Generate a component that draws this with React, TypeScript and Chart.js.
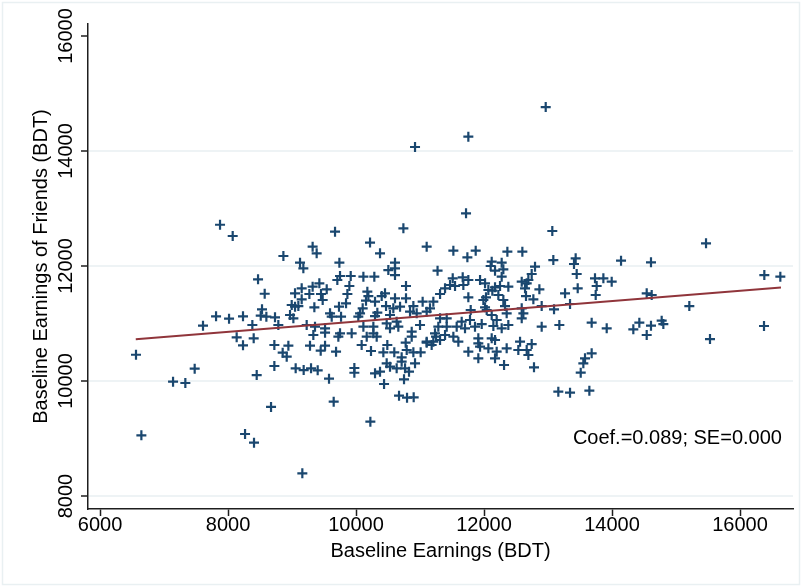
import { useEffect, useRef } from "react";
import { Chart, registerables } from "chart.js";

Chart.register(...registerables);

const xTickValues = [6000, 8000, 10000, 12000, 14000, 16000];
const yTickValues = [8000, 10000, 12000, 14000, 16000];

const earnings = [
  12964, 11755, 10922, 11719,
  7875, 8073, 8469, 8573, 7609, 7813, 8016, 8234, 8380, 8531, 8511, 8599, 8135, 8234, 8401,
  6562, 7479, 7141, 7333, 8448, 6646, 8266, 8406, 8672,
  9651, 10224, 9161, 10672, 10797, 10901, 10438, 10750, 9578, 8724, 9057, 9182, 9297, 9401,
  9974, 9974, 10297, 10375, 10479, 10531, 10635, 10713, 10766, 10828, 10922, 10713, 8724, 8854,
  8943, 8917, 9281, 9448, 9516, 9688, 10088, 10234, 10427, 10489, 10598, 10776, 10792, 10896,
  11010, 11104, 11182, 11250,
  9672, 10740, 10219, 11104, 9322, 9385, 8865, 10375, 9125, 9177, 9740, 10609, 10505, 10609,
  10609, 11274, 9750, 9708, 9917, 10115, 10286, 9047, 9151, 9322, 9427, 9542, 9896, 9865,
  9271, 9453, 9479, 9151, 8995, 9099, 9349, 9047, 9734, 9844, 10177, 10193, 10156, 10297,
  10401, 10453, 10609, 10781, 10781, 11041, 11208, 10583, 10688, 10896, 10469, 10104,
  8734, 8786, 8969, 9021, 9594, 9620, 9766, 10036, 10063, 10297, 10333, 10531, 10635, 10844,
  10948, 11104, 11156, 9229, 9359, 9516, 9333, 9516, 9750, 9724, 9932, 10167, 10271, 10323,
  10115, 10271, 10479, 10531, 10661, 10870, 10870, 11000, 11104, 11208,
  13067, 11521, 11740, 11870, 12365, 12599, 13083, 13432, 13406, 13448, 12120, 12104, 12276,
  12302, 12172, 12276, 12797, 12745, 12693, 11511, 11667, 11755, 11677, 11469, 11391, 11313,
  11547, 11938, 12016, 12172, 12250, 12380, 12589, 12667, 12641, 12865, 12130, 12068, 12031,
  11990, 11755, 12224, 12302, 12656, 12771, 13266, 13464, 13734, 13865, 13760, 13745,
  11792, 12016, 12042, 12328, 12354, 12589, 12615, 12901, 13094, 13344, 11313, 11417, 11651,
  11781, 12120, 12198, 12589, 11286, 11417, 11573, 11703, 11859, 11964, 12146, 12276, 12380,
  12901, 13177, 13682, 13917, 11234, 11391, 11521, 11313, 11599, 11911, 12120, 12172, 12563,
  12745, 11938, 12354,
  11755, 11911, 11911, 12068, 12172, 12198, 12313, 12536, 12667, 12693, 12781, 13161, 13344,
  13646, 13511, 13552, 13578, 13682,
  15469, 14141, 14609, 16380, 16630, 13995, 14542, 14620, 15208, 14333, 14427, 14542, 14609,
  14776, 14802, 15531, 16375,
];

const friendsEarnings = [
  14765, 14249, 14070, 12917,
  12718, 12522, 11769, 11518, 10962, 11125, 11084, 11125, 10974, 11247, 11136, 11118, 10760, 10620, 10742,
  10457, 10214, 9988, 9965, 10104, 9055, 9078, 8927, 9550,
  9640, 9292, 8394, 9745, 9710, 9716, 9948, 10029, 10040, 10261, 10220, 10191, 10220, 10186,
  10226, 10144, 10133, 10162, 10308, 10249, 10220, 10336, 10220, 10162, 10308, 10412, 10626, 10493,
  10614, 10423, 10614, 10527, 10614, 10510, 10626, 10522, 10499, 10626, 10499, 10667, 10539, 10499,
  10499, 10667, 10626, 10771,
  12597, 12655, 12407, 12337, 12337, 12221, 12174, 12221, 12058, 11960, 12058, 12058, 11930, 11960,
  11843, 11919, 11826, 11757, 11826, 11814, 11814, 11525, 11612, 11641, 11699, 11595, 11652, 11513,
  11513, 11513, 11409, 11421, 11322, 11304, 11281, 11292, 11292, 11351, 11554, 11478, 11397, 11380,
  11478, 11525, 11438, 11652, 11438, 11380, 11380, 11264, 11292, 11304, 11304, 11264,
  11108, 10974, 11148, 11090, 11177, 11119, 11119, 11119, 11177, 11130, 11188, 11148, 11032, 11206,
  11177, 11206, 11264, 10974, 10945, 10916, 10800, 10840, 10829, 10771, 10829, 10771, 10829, 10771,
  10945, 10945, 11003, 10916, 10945, 10858, 10771, 10974, 10684, 10684,
  12609, 12267, 12151, 12267, 12250, 12250, 12104, 12134, 12035, 11861, 12075, 12000, 12058,
  11942, 11919, 11814, 11989, 11861, 11757, 11786, 11803, 11757, 11670, 11670, 11612, 11513,
  11652, 11757, 11699, 11630, 11652, 11641, 11728, 11699, 11612, 11595, 11571, 11583, 11455,
  11409, 11455, 11496, 11409, 11478, 11421, 11525, 11612, 11786, 11786, 11652, 11496,
  11235, 11281, 11235, 11304, 11177, 11264, 11177, 11304, 11247, 11339, 11090, 11090, 11032,
  11061, 11148, 11061, 11090, 10945, 10945, 10945, 10916, 10945, 10991, 10957, 10916, 10974,
  10945, 10974, 11014, 10916, 10829, 10800, 10771, 10713, 10684, 10742, 10742, 10713, 10684,
  10643, 10597, 10568,
  10510, 10655, 10394, 10568, 10394, 10510, 10278, 10539, 10539, 10452, 10238, 9814, 9797,
  9832, 10145, 10308, 10394, 10481,
  12395, 12093, 12064, 11843, 11814, 11728, 11525, 11496, 11304, 10899, 11014, 10800, 10962,
  11049, 10991, 10730, 10957,
];

const fitEarnings = [6558, 16640];
const fitFriends = [10728, 11625];

const xTitle = "Baseline Earnings (BDT)";
const yTitle = "Baseline Earnings of Friends (BDT)";
const noteText = "Coef.=0.089; SE=0.000";
const notePos = { x: 16655, y: 9000 };

const FONT = '20px "Liberation Sans", Arial, Helvetica, sans-serif';
const NAVY = "#1a476f";
const MAROON = "#90353b";
const GRID = "#eef3f5";
const AXIS = "#1e1e1e";

const textPlugin = {
  id: "stataText",
  beforeDraw(chart: any) {
    const { ctx, width, height } = chart;
    ctx.save();
    ctx.strokeStyle = "#e9f0f2";
    ctx.lineWidth = 1.5;
    ctx.strokeRect(2.5, 2.5, width - 5, height - 5);
    ctx.restore();
  },
  afterDraw(chart: any) {
    const { ctx, chartArea } = chart;
    const xs = chart.scales.x;
    const ys = chart.scales.y;
    ctx.save();
    ctx.fillStyle = "#000";
    ctx.font = FONT;
    ctx.textBaseline = "alphabetic";
    ctx.textAlign = "center";
    xTickValues.forEach((v) => {
      ctx.fillText(String(v), xs.getPixelForValue(v), 531);
    });
    ctx.fillText(xTitle, (chartArea.left + chartArea.right) / 2, 557);
    yTickValues.forEach((v) => {
      ctx.save();
      ctx.translate(72, ys.getPixelForValue(v));
      ctx.rotate(-Math.PI / 2);
      ctx.fillText(String(v), 0, 0);
      ctx.restore();
    });
    ctx.save();
    ctx.translate(47, (chartArea.top + chartArea.bottom) / 2);
    ctx.rotate(-Math.PI / 2);
    ctx.fillText(yTitle, 0, 0);
    ctx.restore();
    ctx.textAlign = "right";
    ctx.textBaseline = "middle";
    ctx.fillText(noteText, xs.getPixelForValue(notePos.x), ys.getPixelForValue(notePos.y));
    ctx.restore();
  },
};

export default function App() {
  const ref = useRef<HTMLCanvasElement | null>(null);

  useEffect(() => {
    if (!ref.current) return;
    const points = earnings.map((x, i) => ({ x, y: friendsEarnings[i] }));
    const fit = fitEarnings.map((x, i) => ({ x, y: fitFriends[i] }));
    const chart = new Chart(ref.current, {
      type: "scatter",
      data: {
        datasets: [
          {
            type: "line",
            data: fit,
            borderColor: MAROON,
            borderWidth: 2,
            pointRadius: 0,
            fill: false,
            order: 0,
          } as any,
          {
            type: "scatter",
            data: points,
            pointStyle: "cross",
            pointRadius: 5,
            borderWidth: 2.2,
            borderColor: NAVY,
            backgroundColor: NAVY,
            order: 1,
          } as any,
        ],
      },
      options: {
        animation: false,
        responsive: false,
        devicePixelRatio: 1,
        layout: { padding: { left: 81, right: 9, top: 24, bottom: 71 } },
        plugins: { legend: { display: false }, tooltip: { enabled: false } },
        scales: {
          x: {
            type: "linear",
            min: 5812,
            max: 16828,
            afterBuildTicks: (s: any) => {
              s.ticks = xTickValues.map((v) => ({ value: v }));
            },
            ticks: { display: false },
            grid: {
              drawOnChartArea: false,
              drawTicks: true,
              tickLength: 7,
              tickColor: AXIS,
              tickWidth: 1.5,
            },
            border: { display: true, color: AXIS, width: 1.5 },
          },
          y: {
            type: "linear",
            min: 7774,
            max: 16209,
            afterBuildTicks: (s: any) => {
              s.ticks = yTickValues.map((v) => ({ value: v }));
            },
            ticks: { display: false },
            grid: {
              color: (c: any) => (c.tick && c.tick.value === 16000 ? "rgba(0,0,0,0)" : GRID),
              lineWidth: 2,
              drawTicks: true,
              tickLength: 7,
              tickColor: AXIS,
              tickWidth: 1.5,
            },
            border: { display: true, color: AXIS, width: 1.5 },
          },
        },
      },
      plugins: [textPlugin],
    });
    return () => chart.destroy();
  }, []);

  return (
    <div style={{ position: "fixed", left: 0, top: 0, width: 802, height: 587, background: "#fff" }}>
      <canvas ref={ref} width={802} height={587} style={{ width: 802, height: 587, display: "block" }} />
    </div>
  );
}
